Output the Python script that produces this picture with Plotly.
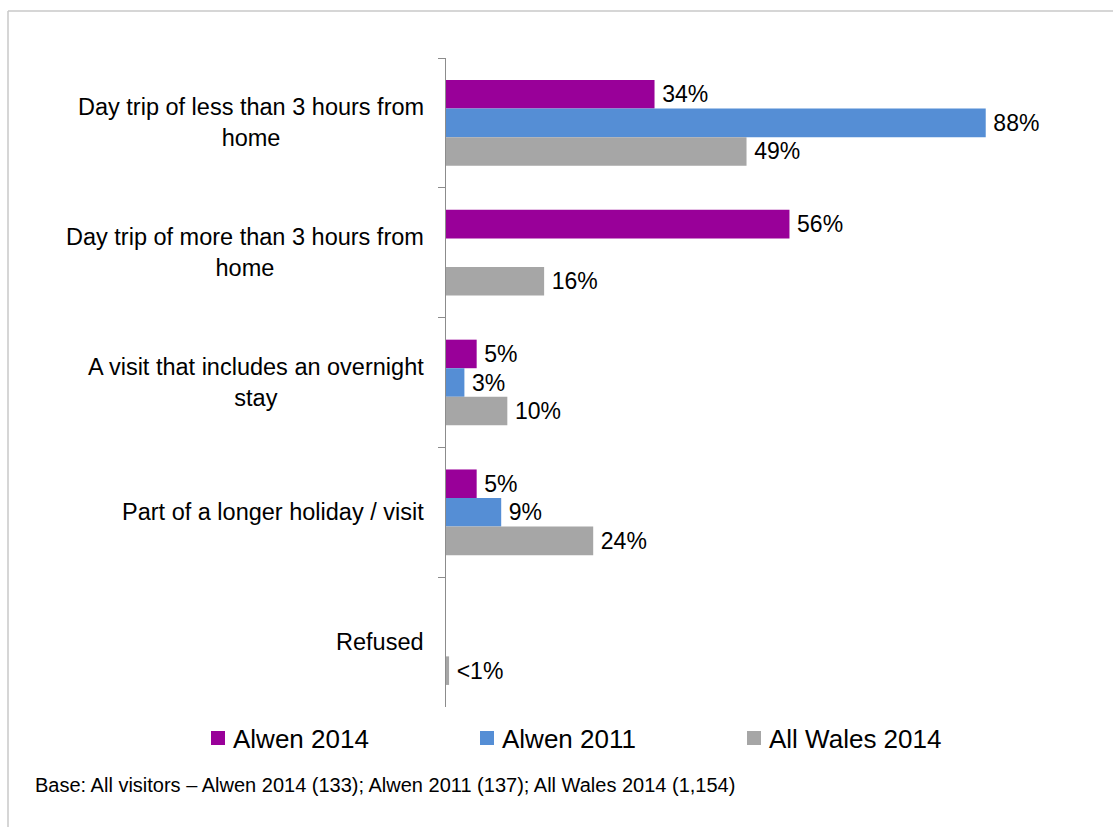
import plotly.graph_objects as go

# Visit types (top to bottom) and the share of visitors for each survey
categories = [
    "Day trip of less than 3 hours from<br>home",
    "Day trip of more than 3 hours from<br>home",
    "A visit that includes an overnight<br>stay",
    "Part of a longer holiday / visit",
    "Refused",
]
alwen_2014 = [34, 56, 5, 5, None]
alwen_2011 = [88, None, 3, 9, None]
all_wales_2014 = [49, 16, 10, 24, 0.5]

series_names = ["Alwen 2014", "Alwen 2011", "All Wales 2014"]
series_values = [alwen_2014, alwen_2011, all_wales_2014]
series_colors = ["#990099", "#558ED5", "#A6A6A6"]

FONT = "Liberation Sans, Arial, sans-serif"

W, H = 1113, 827
L, R, T, B = 446, 23, 58, 120
PW, PH = W - L - R, H - T - B


def px_x(px):
    """Pixel column -> paper x."""
    return (px - L) / PW


def px_y(py):
    """Pixel row -> paper y."""
    return (H - B - py) / PH


def pct_label(v):
    if v is None:
        return ""
    if v < 1:
        return "\u2009<1%"
    return f"\u2009{v:g}%"


fig = go.Figure()
for name, vals, color in zip(series_names, series_values, series_colors):
    fig.add_trace(go.Bar(
        name=name,
        y=categories,
        x=vals,
        orientation="h",
        marker=dict(color=color, line=dict(width=0)),
        text=[pct_label(v) for v in vals],
        textposition="outside",
        textfont=dict(family=FONT, size=23, color="#000000"),
        constraintext="none",
        cliponaxis=False,
        showlegend=False,
    ))

# Category labels, centred line by line and right-aligned to the axis
for cat in categories:
    fig.add_annotation(
        x=0, xref="paper", y=cat, yref="y",
        xanchor="right", yanchor="middle", xshift=-20,
        text=cat, align="center", showarrow=False,
        font=dict(family=FONT, size=23.5, color="#000000"),
    )

# Legend row: colour square followed by the series name
legend_left = [211, 480, 747]
for name, color, x0 in zip(series_names, series_colors, legend_left):
    fig.add_shape(
        type="rect", xref="paper", yref="paper",
        x0=px_x(x0), x1=px_x(x0 + 14), y0=px_y(745), y1=px_y(731),
        fillcolor=color, line=dict(width=0),
    )
    fig.add_annotation(
        x=px_x(x0 + 20), xref="paper", y=px_y(739), yref="paper",
        xanchor="left", yanchor="middle", text=name, showarrow=False,
        font=dict(family=FONT, size=26, color="#000000"),
    )

# Base note under the legend
fig.add_annotation(
    x=px_x(33), xref="paper", y=px_y(785), yref="paper",
    xanchor="left", yanchor="middle",
    text="Base: All visitors \u2013 Alwen 2014 (133); Alwen 2011 (137); All Wales 2014 (1,154)",
    showarrow=False, font=dict(family=FONT, size=20, color="#000000"),
)

# Light frame around the figure area
frame = dict(type="line", xref="paper", yref="paper",
             line=dict(color="#C8C8C8", width=1.5))
fig.add_shape(x0=px_x(8), y0=px_y(11), x1=px_x(1120), y1=px_y(11), **frame)
fig.add_shape(x0=px_x(8), y0=px_y(11), x1=px_x(8), y1=px_y(840), **frame)

fig.update_layout(
    width=W, height=H,
    margin=dict(l=L, r=R, t=T, b=B),
    paper_bgcolor="white", plot_bgcolor="white",
    barmode="group", bargap=0.34, bargroupgap=0,
    font=dict(family=FONT, color="#000000"),
    showlegend=False,
    xaxis=dict(range=[0, 105], visible=False, showgrid=False, zeroline=False),
    yaxis=dict(
        type="category", categoryorder="array", categoryarray=categories,
        autorange="reversed", showticklabels=False, showgrid=False,
        showline=True, linecolor="#8C8C8C", linewidth=1,
        ticks="outside", tickson="boundaries", ticklen=7, tickcolor="#8C8C8C",
        zeroline=False,
    ),
)

fig.write_html("out.html")
